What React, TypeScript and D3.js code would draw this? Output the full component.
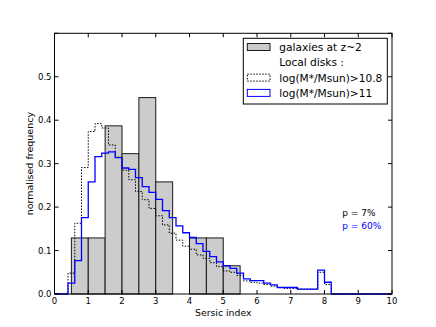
import React from 'react';
import * as d3 from 'd3';

// galaxies at z~2 : bars of width 0.5
const galaxyBinStarts = [0.5, 1.0, 1.5, 2.0, 2.5, 3.0, 3.5, 4.0, 4.5, 5.0];
const galaxyFreq = [0.129, 0.129, 0.387, 0.323, 0.452, 0.258, 0, 0.129, 0.129, 0.065];

// local disks, 50 bins of 0.2 over [0, 10]
const disks108 = [
    0, 0, 0.048, 0.163, 0.291, 0.374, 0.392, 0.382, 0.343, 0.315,
    0.285, 0.263, 0.236, 0.217, 0.197, 0.18, 0.159, 0.14, 0.124, 0.11,
    0.103, 0.09, 0.082, 0.072, 0.063, 0.053, 0.05, 0.043, 0.03, 0.027,
    0.025, 0.022, 0.018, 0.015, 0.013, 0.013, 0.011, 0.011, 0.011, 0.05,
    0.022, 0, 0, 0, 0, 0, 0, 0, 0, 0,
];
const disks11 = [
    0, 0, 0.025, 0.077, 0.176, 0.258, 0.316, 0.324, 0.327, 0.314,
    0.29, 0.287, 0.268, 0.247, 0.234, 0.218, 0.192, 0.176, 0.157, 0.141,
    0.13, 0.116, 0.098, 0.086, 0.074, 0.065, 0.059, 0.048, 0.035, 0.031,
    0.031, 0.025, 0.021, 0.015, 0.015, 0.015, 0.011, 0.011, 0.011, 0.055,
    0.027, 0, 0, 0, 0, 0, 0, 0, 0, 0,
];
const diskBinWidth = 0.2;

const xTicks = [0, 1, 2, 3, 4, 5, 6, 7, 8, 9, 10];
const yTicks = [0, 0.1, 0.2, 0.3, 0.4, 0.5, 0.6];
const yTickLabels = ['0.0', '0.1', '0.2', '0.3', '0.4', '0.5', ''];

const legendLabels = ['galaxies at z~2', 'Local disks :', 'log(M*/Msun)>10.8', 'log(M*/Msun)>11'];
const pLabels = ['p = 7%', 'p = 60%'];

const W = 436;
const H = 327;
const font = 'DejaVu Sans, sans-serif';

const x = d3.scaleLinear().domain([0, 10]).range([54.5, 392]);
const y = d3.scaleLinear().domain([0, 0.6]).range([294, 33.3]);

// matplotlib-like step outline
const stepPath = (vals: number[]) => {
    const pts: [number, number][] = [[0, 0]];
    vals.forEach((v, i) => {
        pts.push([i * diskBinWidth, v]);
        pts.push([(i + 1) * diskBinWidth, v]);
    });
    pts.push([vals.length * diskBinWidth, 0]);
    return d3.line<[number, number]>().x((d) => x(d[0])).y((d) => y(d[1]))(pts) || '';
};

export default function App() {
    const rows = [51, 66.3, 81.6, 96.9];
    return (
        <svg
            width={W}
            height={H}
            style={{ position: 'absolute', left: 0, top: 0, background: '#fff' }}
            fontFamily={font}
        >
            {/* bars */}
            {galaxyBinStarts.map((s, i) =>
                galaxyFreq[i] > 0 ? (
                    <rect
                        key={'b' + i}
                        x={x(s)}
                        y={y(galaxyFreq[i])}
                        width={x(s + 0.5) - x(s)}
                        height={y(0) - y(galaxyFreq[i])}
                        fill="#cccccc"
                        stroke="#1a1a1a"
                        strokeWidth={1}
                    />
                ) : null
            )}
            <path d={stepPath(disks108)} fill="none" stroke="#000" strokeWidth={1} strokeDasharray="1.5,1.5" />
            <path d={stepPath(disks11)} fill="none" stroke="#0000ff" strokeWidth={1.3} />

            {/* frame */}
            <rect x={x(0)} y={y(0.6)} width={x(10) - x(0)} height={y(0) - y(0.6)} fill="none" stroke="#000" strokeWidth={1} />

            {/* ticks */}
            {xTicks.map((t) => (
                <g key={'x' + t}>
                    <line x1={x(t)} x2={x(t)} y1={y(0)} y2={y(0) - 4} stroke="#000" />
                    <line x1={x(t)} x2={x(t)} y1={y(0.6)} y2={y(0.6) + 4} stroke="#000" />
                    <text x={x(t)} y={303.5} fontSize={8.5} textAnchor="middle">
                        {t}
                    </text>
                </g>
            ))}
            {yTicks.map((t, i) => (
                <g key={'y' + t}>
                    <line x1={x(0)} x2={x(0) + 4} y1={y(t)} y2={y(t)} stroke="#000" />
                    <line x1={x(10)} x2={x(10) - 4} y1={y(t)} y2={y(t)} stroke="#000" />
                    <text x={51.5} y={y(t) + 3} fontSize={8.5} textAnchor="end">
                        {yTickLabels[i]}
                    </text>
                </g>
            ))}

            <text x={(x(0) + x(10)) / 2} y={316} fontSize={9.3} textAnchor="middle">
                Sersic index
            </text>
            <text
                transform={`translate(33, ${(y(0) + y(0.6)) / 2}) rotate(-90)`}
                fontSize={9.5}
                textAnchor="middle"
            >
                normalised frequency
            </text>

            {/* p values */}
            <text x={342.3} y={216} fontSize={9} fill="#000">
                {pLabels[0]}
            </text>
            <text x={342.3} y={229} fontSize={9} fill="#0000ff">
                {pLabels[1]}
            </text>

            {/* legend */}
            <rect x={243.3} y={38.3} width={144} height={65.7} fill="#fff" stroke="#000" strokeWidth={1} />
            <rect x={247.3} y={rows[0] - 7.5} width={22.7} height={7} fill="#cccccc" stroke="#1a1a1a" />
            <rect x={247.3} y={rows[2] - 7.5} width={22.7} height={7} fill="none" stroke="#000" strokeDasharray="1.5,1.5" />
            <rect x={247.3} y={rows[3] - 7.5} width={22.7} height={7} fill="none" stroke="#0000ff" />
            {legendLabels.map((l, i) => (
                <text key={l} x={279.3} y={rows[i]} fontSize={10.6}>
                    {l}
                </text>
            ))}
        </svg>
    );
}
